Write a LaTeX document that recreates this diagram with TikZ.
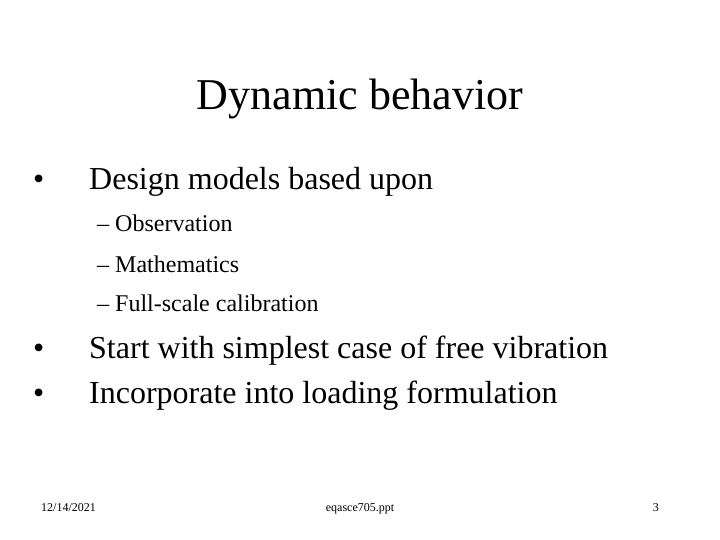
\documentclass[tikz,border=0pt]{standalone}
\usepackage{fontspec}
\setmainfont{Liberation Serif}
\begin{document}
\begin{tikzpicture}[x=1pt,y=-1pt,
  t/.style={inner sep=0pt,anchor=base west},
  b1/.style={t,font=\fontsize{32}{38}\selectfont},
  b2/.style={t,font=\fontsize{24}{29}\selectfont},
  ft/.style={inner sep=0pt,anchor=base,font=\fontsize{12}{14}\selectfont}]
\useasboundingbox[fill=white] (0,0) rectangle (720,540);
\node[inner sep=0pt,anchor=base,font=\fontsize{44}{52}\selectfont] (title) at (360,110) {Dynamic behavior};
\node[b1] (d1) at (33,190) {•};
\node[b1] (l1) at (89,190) {Design models based upon};
\node[b2] (s1) at (97,232) {– Observation};
\node[b2] (s2) at (97,272) {– Mathematics};
\node[b2] (s3) at (97,311) {– Full-scale calibration};
\node[b1] (d2) at (33,358) {•};
\node[b1] (l2) at (89,358) {Start with simplest case of free vibration};
\node[b1] (d3) at (33,403) {•};
\node[b1] (l3) at (89,403) {Incorporate into loading formulation};
\node[ft,anchor=base west] (f1) at (41,511) {12/14/2021};
\node[ft] (f2) at (360,511) {eqasce705.ppt};
\node[ft,anchor=base east] (f3) at (659,511) {3};
\end{tikzpicture}
\end{document}
